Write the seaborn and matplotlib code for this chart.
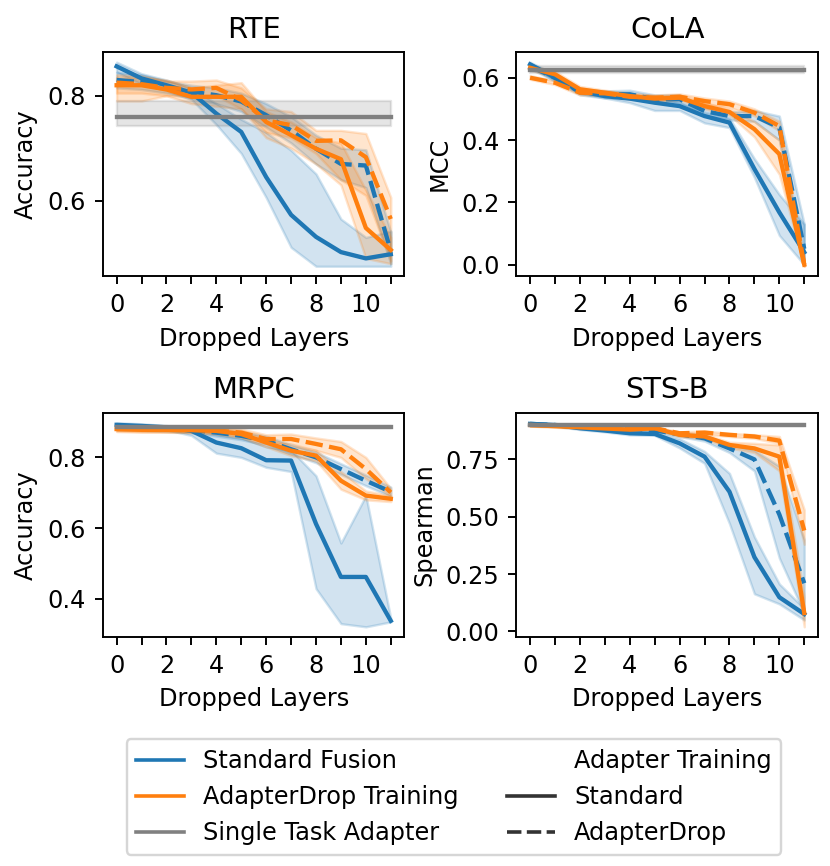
import numpy as np
import pandas as pd
import matplotlib
matplotlib.use("Agg")
import matplotlib.pyplot as plt
from matplotlib.lines import Line2D
import seaborn as sns

layers = list(range(12))

tasks = ["RTE", "CoLA", "MRPC", "STS-B"]
ylabels = ["Accuracy", "MCC", "Accuracy", "Spearman"]
yticks = [[0.6, 0.8], [0.0, 0.2, 0.4, 0.6], [0.4, 0.6, 0.8], [0.0, 0.25, 0.5, 0.75]]
ytick_labels = [["0.6", "0.8"], ["0.0", "0.2", "0.4", "0.6"], ["0.4", "0.6", "0.8"],
                ["0.00", "0.25", "0.50", "0.75"]]

# single task adapter reference (mid, lo, hi) per task
single_task = {"RTE": (0.760, 0.743, 0.790), "CoLA": (0.624, 0.614, 0.637),
               "MRPC": (0.885, 0.882, 0.888), "STS-B": (0.900, 0.897, 0.903)}

# RTE
rte_sf_std = [0.856, 0.833, 0.820, 0.806, 0.766, 0.731, 0.645, 0.573, 0.531, 0.502, 0.490, 0.498]
rte_sf_std_lo = [0.845, 0.822, 0.810, 0.793, 0.745, 0.690, 0.606, 0.511, 0.475, 0.475, 0.475, 0.475]
rte_sf_std_hi = [0.864, 0.842, 0.830, 0.815, 0.785, 0.755, 0.730, 0.696, 0.651, 0.565, 0.530, 0.542]
rte_sf_drop = [0.830, 0.826, 0.816, 0.808, 0.801, 0.789, 0.763, 0.734, 0.699, 0.670, 0.667, 0.504]
rte_sf_drop_lo = [0.815, 0.812, 0.805, 0.795, 0.785, 0.770, 0.740, 0.710, 0.670, 0.640, 0.625, 0.480]
rte_sf_drop_hi = [0.845, 0.840, 0.828, 0.820, 0.815, 0.805, 0.785, 0.760, 0.725, 0.700, 0.697, 0.540]
rte_ad_std = [0.820, 0.820, 0.812, 0.798, 0.798, 0.798, 0.750, 0.725, 0.699, 0.679, 0.548, 0.506]
rte_ad_std_lo = [0.790, 0.790, 0.800, 0.785, 0.780, 0.775, 0.720, 0.700, 0.670, 0.630, 0.490, 0.480]
rte_ad_std_hi = [0.835, 0.835, 0.830, 0.815, 0.820, 0.825, 0.770, 0.750, 0.720, 0.710, 0.620, 0.530]
rte_ad_drop = [0.825, 0.822, 0.815, 0.812, 0.815, 0.792, 0.753, 0.744, 0.714, 0.715, 0.683, 0.565]
rte_ad_drop_lo = [0.805, 0.805, 0.800, 0.800, 0.800, 0.775, 0.730, 0.720, 0.690, 0.640, 0.610, 0.485]
rte_ad_drop_hi = [0.840, 0.838, 0.828, 0.828, 0.830, 0.815, 0.775, 0.770, 0.734, 0.734, 0.728, 0.606]

# CoLA
cola_sf_std = [0.643, 0.600, 0.557, 0.541, 0.533, 0.520, 0.509, 0.477, 0.456, 0.307, 0.168, 0.040]
cola_sf_std_lo = [0.635, 0.590, 0.550, 0.535, 0.520, 0.495, 0.495, 0.455, 0.440, 0.280, 0.094, 0.000]
cola_sf_std_hi = [0.650, 0.610, 0.565, 0.548, 0.545, 0.540, 0.520, 0.490, 0.470, 0.340, 0.225, 0.130]
cola_sf_drop = [0.637, 0.600, 0.554, 0.547, 0.547, 0.531, 0.531, 0.493, 0.477, 0.477, 0.440, 0.051]
cola_sf_drop_lo = [0.630, 0.590, 0.545, 0.535, 0.535, 0.520, 0.520, 0.480, 0.465, 0.460, 0.400, 0.000]
cola_sf_drop_hi = [0.645, 0.610, 0.562, 0.558, 0.560, 0.545, 0.545, 0.505, 0.490, 0.495, 0.477, 0.130]
cola_ad_std = [0.632, 0.611, 0.563, 0.552, 0.541, 0.533, 0.536, 0.509, 0.490, 0.435, 0.355, 0.000]
cola_ad_std_lo = [0.625, 0.600, 0.555, 0.545, 0.532, 0.525, 0.528, 0.500, 0.480, 0.410, 0.290, -0.005]
cola_ad_std_hi = [0.640, 0.620, 0.572, 0.560, 0.550, 0.542, 0.545, 0.520, 0.500, 0.460, 0.400, 0.020]
cola_ad_drop = [0.600, 0.584, 0.552, 0.550, 0.539, 0.536, 0.539, 0.525, 0.515, 0.488, 0.445, 0.000]
cola_ad_drop_lo = [0.595, 0.578, 0.545, 0.543, 0.532, 0.528, 0.532, 0.515, 0.505, 0.478, 0.430, -0.005]
cola_ad_drop_hi = [0.607, 0.590, 0.560, 0.558, 0.547, 0.545, 0.548, 0.535, 0.525, 0.500, 0.460, 0.015]

# MRPC
mrpc_sf_std = [0.892, 0.889, 0.885, 0.875, 0.842, 0.826, 0.792, 0.791, 0.612, 0.462, 0.462, 0.338]
mrpc_sf_std_lo = [0.885, 0.882, 0.878, 0.862, 0.812, 0.800, 0.772, 0.760, 0.429, 0.330, 0.321, 0.335]
mrpc_sf_std_hi = [0.898, 0.895, 0.890, 0.885, 0.865, 0.855, 0.830, 0.820, 0.748, 0.558, 0.692, 0.345]
mrpc_sf_drop = [0.885, 0.883, 0.880, 0.878, 0.870, 0.861, 0.847, 0.823, 0.800, 0.767, 0.734, 0.703]
mrpc_sf_drop_lo = [0.878, 0.876, 0.873, 0.870, 0.860, 0.850, 0.835, 0.810, 0.785, 0.752, 0.720, 0.690]
mrpc_sf_drop_hi = [0.892, 0.890, 0.887, 0.885, 0.880, 0.872, 0.860, 0.836, 0.815, 0.782, 0.750, 0.716]
mrpc_ad_std = [0.880, 0.878, 0.878, 0.877, 0.875, 0.866, 0.842, 0.819, 0.805, 0.734, 0.692, 0.683]
mrpc_ad_std_lo = [0.873, 0.871, 0.871, 0.870, 0.866, 0.856, 0.830, 0.805, 0.790, 0.710, 0.680, 0.675]
mrpc_ad_std_hi = [0.887, 0.885, 0.885, 0.884, 0.884, 0.876, 0.854, 0.833, 0.820, 0.760, 0.705, 0.692]
mrpc_ad_drop = [0.882, 0.880, 0.879, 0.878, 0.876, 0.870, 0.852, 0.852, 0.838, 0.823, 0.767, 0.701]
mrpc_ad_drop_lo = [0.875, 0.873, 0.872, 0.871, 0.868, 0.860, 0.840, 0.838, 0.820, 0.800, 0.740, 0.690]
mrpc_ad_drop_hi = [0.889, 0.887, 0.886, 0.885, 0.884, 0.880, 0.864, 0.866, 0.855, 0.845, 0.800, 0.712]

# STS-B
stsb_sf_std = [0.905, 0.900, 0.886, 0.876, 0.864, 0.861, 0.820, 0.762, 0.609, 0.324, 0.149, 0.076]
stsb_sf_std_lo = [0.900, 0.895, 0.880, 0.870, 0.857, 0.855, 0.800, 0.733, 0.470, 0.164, 0.120, 0.050]
stsb_sf_std_hi = [0.910, 0.905, 0.892, 0.882, 0.870, 0.867, 0.840, 0.785, 0.689, 0.412, 0.207, 0.100]
stsb_sf_drop = [0.905, 0.900, 0.895, 0.890, 0.885, 0.876, 0.860, 0.842, 0.798, 0.750, 0.510, 0.210]
stsb_sf_drop_lo = [0.900, 0.895, 0.890, 0.885, 0.878, 0.870, 0.850, 0.830, 0.780, 0.700, 0.320, 0.080]
stsb_sf_drop_hi = [0.910, 0.905, 0.900, 0.895, 0.890, 0.882, 0.870, 0.855, 0.815, 0.790, 0.720, 0.400]
stsb_ad_std = [0.900, 0.895, 0.890, 0.885, 0.880, 0.886, 0.857, 0.850, 0.813, 0.798, 0.762, 0.080]
stsb_ad_std_lo = [0.895, 0.890, 0.885, 0.880, 0.875, 0.880, 0.850, 0.840, 0.800, 0.780, 0.700, 0.020]
stsb_ad_std_hi = [0.905, 0.900, 0.895, 0.890, 0.885, 0.892, 0.865, 0.860, 0.825, 0.820, 0.813, 0.150]
stsb_ad_drop = [0.900, 0.898, 0.895, 0.892, 0.890, 0.886, 0.864, 0.867, 0.857, 0.850, 0.832, 0.440]
stsb_ad_drop_lo = [0.895, 0.893, 0.890, 0.887, 0.885, 0.880, 0.858, 0.860, 0.850, 0.842, 0.820, 0.380]
stsb_ad_drop_hi = [0.905, 0.903, 0.900, 0.897, 0.895, 0.892, 0.870, 0.874, 0.864, 0.858, 0.850, 0.530]

series = {
    "RTE": [("Standard Fusion", "Standard", rte_sf_std, rte_sf_std_lo, rte_sf_std_hi),
            ("Standard Fusion", "AdapterDrop", rte_sf_drop, rte_sf_drop_lo, rte_sf_drop_hi),
            ("AdapterDrop Training", "Standard", rte_ad_std, rte_ad_std_lo, rte_ad_std_hi),
            ("AdapterDrop Training", "AdapterDrop", rte_ad_drop, rte_ad_drop_lo, rte_ad_drop_hi)],
    "CoLA": [("Standard Fusion", "Standard", cola_sf_std, cola_sf_std_lo, cola_sf_std_hi),
             ("Standard Fusion", "AdapterDrop", cola_sf_drop, cola_sf_drop_lo, cola_sf_drop_hi),
             ("AdapterDrop Training", "Standard", cola_ad_std, cola_ad_std_lo, cola_ad_std_hi),
             ("AdapterDrop Training", "AdapterDrop", cola_ad_drop, cola_ad_drop_lo, cola_ad_drop_hi)],
    "MRPC": [("Standard Fusion", "Standard", mrpc_sf_std, mrpc_sf_std_lo, mrpc_sf_std_hi),
             ("Standard Fusion", "AdapterDrop", mrpc_sf_drop, mrpc_sf_drop_lo, mrpc_sf_drop_hi),
             ("AdapterDrop Training", "Standard", mrpc_ad_std, mrpc_ad_std_lo, mrpc_ad_std_hi),
             ("AdapterDrop Training", "AdapterDrop", mrpc_ad_drop, mrpc_ad_drop_lo, mrpc_ad_drop_hi)],
    "STS-B": [("Standard Fusion", "Standard", stsb_sf_std, stsb_sf_std_lo, stsb_sf_std_hi),
              ("Standard Fusion", "AdapterDrop", stsb_sf_drop, stsb_sf_drop_lo, stsb_sf_drop_hi),
              ("AdapterDrop Training", "Standard", stsb_ad_std, stsb_ad_std_lo, stsb_ad_std_hi),
              ("AdapterDrop Training", "AdapterDrop", stsb_ad_drop, stsb_ad_drop_lo, stsb_ad_drop_hi)],
}

palette = {"Standard Fusion": "#1f77b4", "AdapterDrop Training": "#ff7f0e",
           "Single Task Adapter": "#808080"}
hue_order = ["Standard Fusion", "AdapterDrop Training", "Single Task Adapter"]


def build_frame(task):
    # three samples per point (lo, mid, hi): median gives the line, min-max gives the band
    rows = []
    for fusion, training, mid, lo, hi in series[task]:
        for x, a, b, c in zip(layers, lo, mid, hi):
            for v in (a, b, c):
                rows.append((x, v, fusion, training))
    m, lo, hi = single_task[task]
    for x in layers:
        for v in (lo, m, hi):
            rows.append((x, v, "Single Task Adapter", "Standard"))
    return pd.DataFrame(rows, columns=["layers", "value", "fusion", "training"])


fig, axes = plt.subplots(2, 2, figsize=(830 / 173, 866 / 173), dpi=173)
fig.subplots_adjust(left=0.124, right=0.9855, top=0.94, bottom=0.2644, wspace=0.371, hspace=0.606)

for ax, task, ylab, yt, ytl in zip(axes.flat, tasks, ylabels, yticks, ytick_labels):
    df = build_frame(task)
    sns.lineplot(data=df, x="layers", y="value", hue="fusion", style="training",
                 hue_order=hue_order, style_order=["Standard", "AdapterDrop"],
                 palette=palette, estimator="median", errorbar=("pi", 100),
                 legend=False, linewidth=1.8, ax=ax)
    ax.set_title(task, fontsize=12)
    ax.set_xlabel("Dropped Layers")
    ax.set_ylabel(ylab)
    ax.set_xticks(layers)
    ax.set_xticklabels([str(x) if x % 2 == 0 else "" for x in layers])
    ax.set_yticks(yt)
    ax.set_yticklabels(ytl)

handles = [
    Line2D([], [], color=palette["Standard Fusion"], lw=1.5),
    Line2D([], [], color=palette["AdapterDrop Training"], lw=1.5),
    Line2D([], [], color=palette["Single Task Adapter"], lw=1.5),
    Line2D([], [], color="none"),
    Line2D([], [], color="0.2", lw=1.5),
    Line2D([], [], color="0.2", lw=1.5, dashes=(4, 1.5)),
]
labels = ["Standard Fusion", "AdapterDrop Training", "Single Task Adapter",
          "Adapter Training", "Standard", "AdapterDrop"]
fig.legend(handles, labels, ncol=2, loc="upper center", bbox_to_anchor=(0.547, 0.160))

fig.savefig("out.png", dpi=173)
